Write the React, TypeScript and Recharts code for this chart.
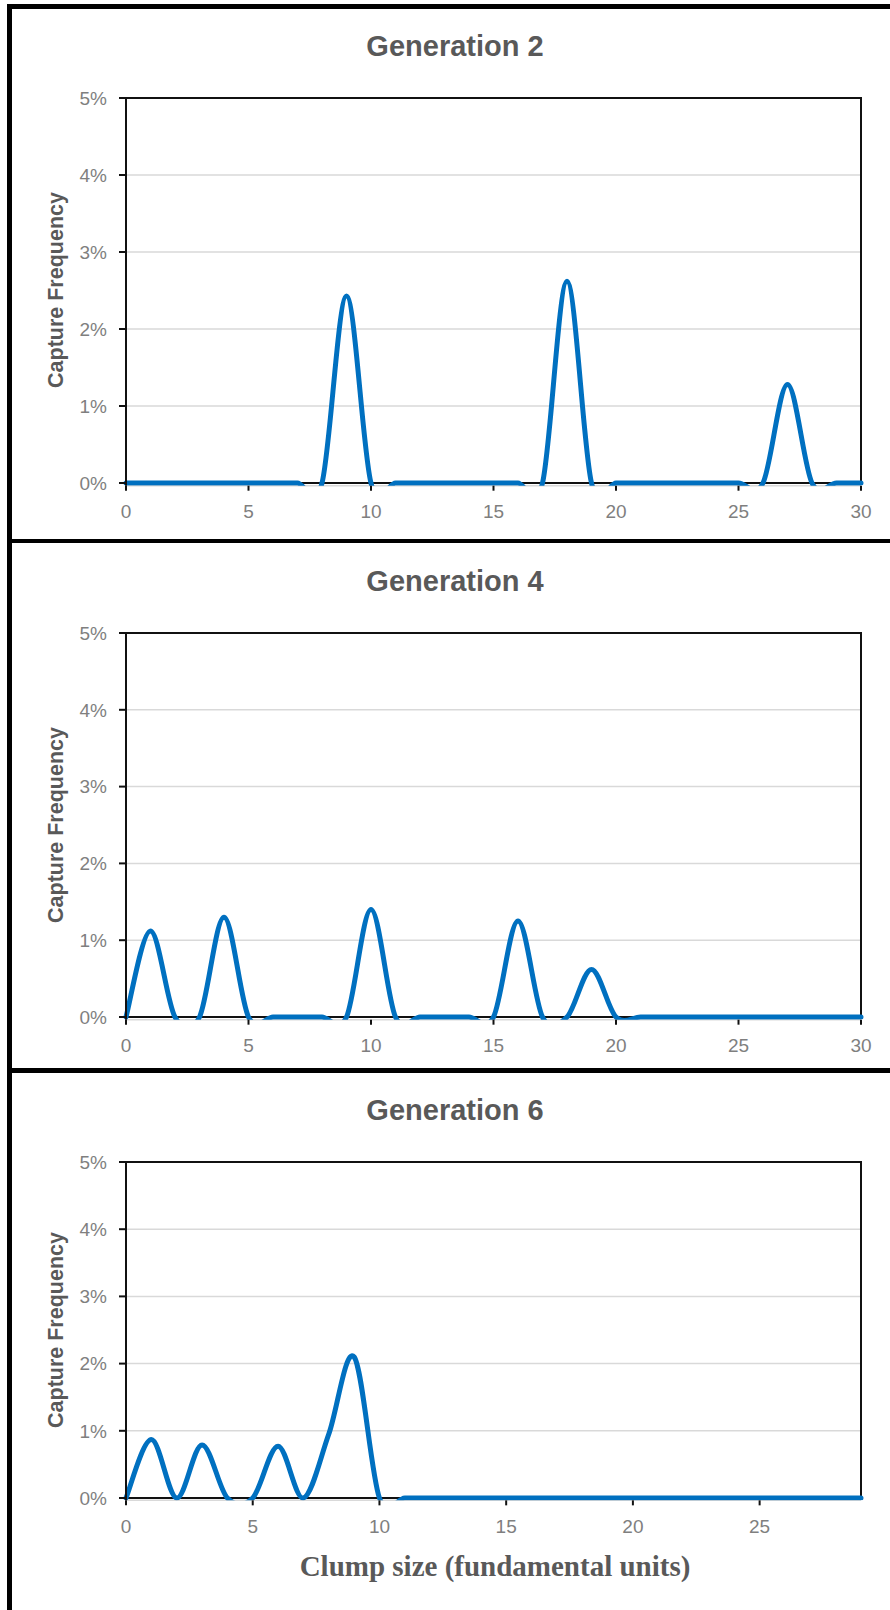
import React from "react";
import { CartesianGrid, Line, LineChart, ReferenceArea, XAxis, YAxis } from "recharts";

// clump sizes (fundamental units)
const sizes = [0, 1, 2, 3, 4, 5, 6, 7, 8, 9, 10, 11, 12, 13, 14, 15, 16, 17, 18, 19, 20, 21, 22, 23, 24, 25, 26, 27, 28, 29, 30];

// capture frequency, in %
const gen2 = [0, 0, 0, 0, 0, 0, 0, 0, 0, 2.43, 0, 0, 0, 0, 0, 0, 0, 0, 2.62, 0, 0, 0, 0, 0, 0, 0, 0, 1.28, 0, 0, 0];
const gen4 = [0, 1.12, 0, 0, 1.3, 0, 0, 0, 0, 0, 1.4, 0, 0, 0, 0, 0, 1.25, 0, 0, 0.62, 0, 0, 0, 0, 0, 0, 0, 0, 0, 0, 0];
const gen6 = [0, 0.87, 0, 0.79, 0, 0, 0.77, 0, 0.95, 2.1, 0, 0, 0, 0, 0, 0, 0, 0, 0, 0, 0, 0, 0, 0, 0, 0, 0, 0, 0, 0];

const yTicks = [0, 1, 2, 3, 4, 5];
const xTicks30 = [0, 5, 10, 15, 20, 25, 30];
const xTicks29 = [0, 5, 10, 15, 20, 25];

const SANS = "'Liberation Sans', Arial, Helvetica, sans-serif";
const SERIF = "'Liberation Serif', 'Times New Roman', serif";
const Y_MIN = -0.035; // a hair below zero so the flat line is not cut in half by the clip

// Excel-like smoothed line (Catmull-Rom as cubic bezier)
function excelSmooth(context: any) {
  let pts: number[][] = [];
  return {
    areaStart() {},
    areaEnd() {},
    lineStart() {
      pts = [];
    },
    point(x: number, y: number) {
      pts.push([+x, +y]);
    },
    lineEnd() {
      const n = pts.length;
      if (!n) return;
      context.moveTo(pts[0][0], pts[0][1]);
      for (let i = 0; i < n - 1; i++) {
        const p0 = pts[Math.max(i - 1, 0)];
        const p1 = pts[i];
        const p2 = pts[i + 1];
        const p3 = pts[Math.min(i + 2, n - 1)];
        context.bezierCurveTo(
          p1[0] + (p2[0] - p0[0]) / 6,
          p1[1] + (p2[1] - p0[1]) / 6,
          p2[0] - (p3[0] - p1[0]) / 6,
          p2[1] - (p3[1] - p1[1]) / 6,
          p2[0],
          p2[1]
        );
      }
    },
  };
}

type PanelProps = {
  values: number[];
  xMax: number;
  xTicks: number[];
  top: number;
  height: number;
  plotTop: number;
  zeroY: number;
};

function Panel({ values, xMax, xTicks, top, height, plotTop, zeroY }: PanelProps) {
  const data = values.map((v, i) => ({ size: sizes[i], value: v }));
  const plotBottom = zeroY + ((zeroY - plotTop) * -Y_MIN) / 5;
  const xAxisHeight = top + height - plotBottom;
  return (
    <div style={{ position: "absolute", left: 0, top }}>
      <LineChart width={890} height={height} data={data} margin={{ top: plotTop - top, right: 29, bottom: 0, left: 0 }}>
        <CartesianGrid vertical={false} stroke="#d9d9d9" strokeWidth={1.5} />
        <ReferenceArea x1={0} x2={xMax} y1={0} y2={5} fill="none" fillOpacity={0} stroke="#111" strokeWidth={2} />
        <XAxis
          dataKey="size"
          type="number"
          domain={[0, xMax]}
          ticks={xTicks}
          height={xAxisHeight}
          axisLine={false}
          tickLine={{ stroke: "#111", strokeWidth: 2 }}
          tickSize={5}
          tickMargin={14}
          tick={{ fontSize: 19, fill: "#7f7f7f", fontFamily: SANS }}
        />
        <YAxis
          type="number"
          domain={[Y_MIN, 5]}
          ticks={yTicks}
          allowDataOverflow
          width={126}
          axisLine={{ stroke: "#111", strokeWidth: 2 }}
          tickLine={{ stroke: "#111", strokeWidth: 2 }}
          tickSize={7}
          tickMargin={12}
          tickFormatter={(v) => `${v}%`}
          tick={{ fontSize: 19, fill: "#7f7f7f", fontFamily: SANS }}
        />
        <Line
          dataKey="value"
          type={excelSmooth as any}
          stroke="#0070C0"
          strokeWidth={5}
          strokeLinecap="round"
          dot={false}
          activeDot={false}
          isAnimationActive={false}
        />
      </LineChart>
    </div>
  );
}

const titleStyle = { fontFamily: SANS, fontSize: 29, fontWeight: 700, fill: "#595959" };
const yLabelStyle = { fontFamily: SANS, fontSize: 21.5, fontWeight: 700, fill: "#595959" };

export default function App() {
  return (
    <div style={{ position: "absolute", left: 0, top: 0, width: 890, height: 1610, background: "#fff", overflow: "hidden" }}>
      <Panel values={gen2} xMax={30} xTicks={xTicks30} top={0} height={541} plotTop={98} zeroY={483} />
      <Panel values={gen4} xMax={30} xTicks={xTicks30} top={541} height={529} plotTop={633} zeroY={1017} />
      <Panel values={gen6} xMax={29} xTicks={xTicks29} top={1070} height={540} plotTop={1162} zeroY={1498} />

      <svg width={890} height={1610} style={{ position: "absolute", left: 0, top: 0, pointerEvents: "none" }}>
        <rect x={7} y={4} width={883} height={5} fill="#000" />
        <rect x={7} y={4} width={5} height={1606} fill="#000" />
        <rect x={7} y={539} width={883} height={4} fill="#000" />
        <rect x={7} y={1068} width={883} height={5} fill="#000" />

        <text x={455} y={56} textAnchor="middle" style={titleStyle}>Generation 2</text>
        <text x={455} y={591} textAnchor="middle" style={titleStyle}>Generation 4</text>
        <text x={455} y={1120} textAnchor="middle" style={titleStyle}>Generation 6</text>

        <text x={63} y={290} textAnchor="middle" transform="rotate(-90 63 290)" style={yLabelStyle}>Capture Frequency</text>
        <text x={63} y={825} textAnchor="middle" transform="rotate(-90 63 825)" style={yLabelStyle}>Capture Frequency</text>
        <text x={63} y={1330} textAnchor="middle" transform="rotate(-90 63 1330)" style={yLabelStyle}>Capture Frequency</text>

        <text x={495} y={1576} textAnchor="middle" style={{ fontFamily: SERIF, fontSize: 29, fontWeight: 700, fill: "#595959" }}>
          Clump size (fundamental units)
        </text>
      </svg>
    </div>
  );
}
